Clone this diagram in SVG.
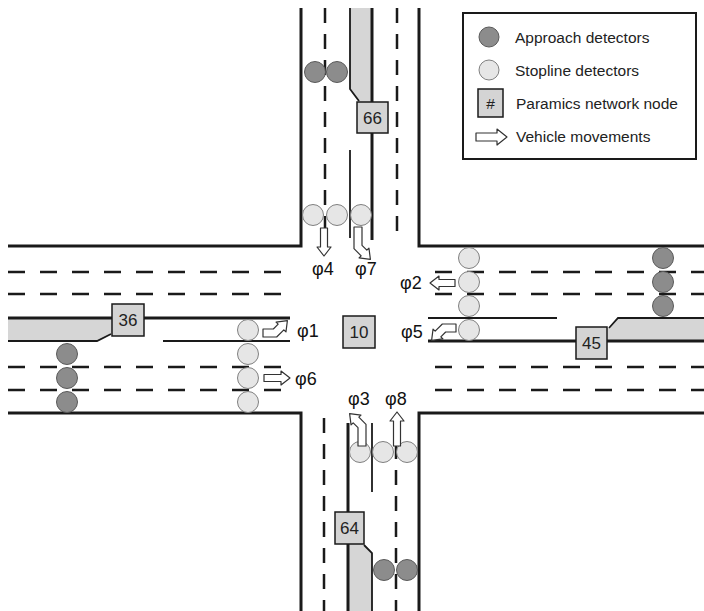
<svg xmlns="http://www.w3.org/2000/svg" width="704" height="611" viewBox="0 0 704 611">
<style>
.edge{fill:none;stroke:#1a1a1a;stroke-width:3}
.thin{fill:none;stroke:#1a1a1a;stroke-width:1.8}
.dh{fill:none;stroke:#1a1a1a;stroke-width:2.5;stroke-dasharray:17 15}
.dv{fill:none;stroke:#1a1a1a;stroke-width:2.5;stroke-dasharray:15 11}
.island{fill:#d6d6d6;stroke:none}
.app{fill:#8c8c8c;stroke:#5a5a5a;stroke-width:1}
.stop{fill:#e6e6e6;stroke:#808080;stroke-width:1}
.node rect{fill:#d4d4d4;stroke:#1a1a1a;stroke-width:1.5}
.node text{font-family:"Liberation Sans",Arial,sans-serif;font-size:17px;fill:#222;text-anchor:middle}
.mv{fill:#fff;stroke:#333;stroke-width:1.2;stroke-linejoin:round}
.ph{font-family:"Liberation Sans",Arial,sans-serif;font-size:18px;fill:#111}
.lg{font-family:"Liberation Sans",Arial,sans-serif;font-size:15.5px;fill:#222}
</style>
<defs>
<path id="turnS" d="M0,-4 L10.34,-4 L15.17,-8.83 L13.05,-10.95 L24.4,-12.4 L22.95,-1.05 L20.83,-3.17 L13.66,4 L0,4 Z"/>
<path id="turnL" d="M0,-4 L18.34,-4 L23.17,-8.83 L21.05,-10.95 L32.4,-12.4 L30.95,-1.05 L28.83,-3.17 L21.66,4 L0,4 Z"/>
</defs>
<rect width="704" height="611" fill="#fff"/>
<g id="islands">
<polygon class="island" points="350,8 372,8 372,102 359,102 350,90"/>
<polygon class="island" points="8,318 112,318 112,334 110,334 98,341 8,341"/>
<polygon class="island" points="607,328 610,328 618,318 704,318 704,341 607,341"/>
<polygon class="island" points="348,544 364,544 372,553 372,611 348,611"/>
</g>
<g id="road-edges">
<path class="edge" d="M8,246 H301 V8"/>
<path class="edge" d="M419,8 V246 H704"/>
<path class="edge" d="M8,413 H301 V611"/>
<path class="edge" d="M704,413 H419 V611"/>
</g>
<g id="lane-lines">
<path class="thin" d="M350,8 V89 L359,101"/>
<path class="edge" d="M372,8 V240"/>
<path class="thin" d="M350,150 V238"/>
<path class="edge" d="M8,318 H290"/>
<path class="thin" d="M8,341 H97 L111,334"/>
<path class="thin" d="M163,341 H290"/>
<path class="edge" d="M428,341 H704"/>
<path class="thin" d="M428,318 H557"/>
<path class="thin" d="M609,328 L618,318 H704"/>
<path class="edge" d="M348,423 V611"/>
<path class="thin" d="M372,423 V492"/>
<path class="thin" d="M364,545 L372,553 V611"/>
<path class="dh" d="M8,272 H282 M8,294 H282 M8,367 H282 M8,390 H282"/>
<path class="dh" d="M435,272 H704 M435,294 H704 M435,367 H704 M435,390 H704"/>
<path class="dv" d="M325,8 V240 M397,8 V240"/>
<path class="dv" d="M324,418 V611 M396,418 V611"/>
</g>
<g id="approach-detectors">
<circle class="app" cx="315" cy="72" r="10.5"/>
<circle class="app" cx="337" cy="72" r="10.5"/>
<circle class="app" cx="67" cy="354" r="10.5"/>
<circle class="app" cx="67" cy="378" r="10.5"/>
<circle class="app" cx="67" cy="402" r="10.5"/>
<circle class="app" cx="663" cy="258" r="10.5"/>
<circle class="app" cx="663" cy="282" r="10.5"/>
<circle class="app" cx="663" cy="306" r="10.5"/>
<circle class="app" cx="384" cy="570" r="10.5"/>
<circle class="app" cx="407" cy="570" r="10.5"/>
</g>
<g id="stopline-detectors">
<circle class="stop" cx="313" cy="215" r="10.5"/>
<circle class="stop" cx="337" cy="215" r="10.5"/>
<circle class="stop" cx="361" cy="215" r="10.5"/>
<circle class="stop" cx="248" cy="330" r="10.5"/>
<circle class="stop" cx="248" cy="354" r="10.5"/>
<circle class="stop" cx="248" cy="378" r="10.5"/>
<circle class="stop" cx="248" cy="402" r="10.5"/>
<circle class="stop" cx="469" cy="258" r="10.5"/>
<circle class="stop" cx="469" cy="282" r="10.5"/>
<circle class="stop" cx="469" cy="306" r="10.5"/>
<circle class="stop" cx="469" cy="330" r="10.5"/>
<circle class="stop" cx="360" cy="452" r="10.5"/>
<circle class="stop" cx="383" cy="452" r="10.5"/>
<circle class="stop" cx="407" cy="452" r="10.5"/>
</g>
<g id="node-66" class="node"><rect x="357" y="102" width="31" height="31"/><text x="372.5" y="124">66</text></g>
<g id="node-36" class="node"><rect x="112" y="304" width="32" height="32"/><text x="128" y="326">36</text></g>
<g id="node-10" class="node"><rect x="343" y="316" width="32" height="32"/><text x="359" y="338">10</text></g>
<g id="node-45" class="node"><rect x="576" y="327" width="31" height="32"/><text x="591.5" y="349">45</text></g>
<g id="node-64" class="node"><rect x="335" y="512" width="29" height="32"/><text x="349.5" y="534">64</text></g>
<g id="movements">
<path class="mv" d="M264,374.5 L281,374.5 L281,371 L290,378 L281,385 L281,381.5 L264,381.5 Z"/>
<path class="mv" d="M455,279.5 L439,279.5 L439,276 L430,283 L439,290 L439,286.5 L455,286.5 Z"/>
<path class="mv" d="M320.5,228 L320.5,247 L317,247 L324,256 L331,247 L327.5,247 L327.5,228 Z"/>
<path class="mv" d="M393.5,446 L393.5,421 L390,421 L397,412 L404,421 L400.5,421 L400.5,446 Z"/>
<use class="mv" href="#turnS" transform="translate(263,333)"/>
<use class="mv" href="#turnS" transform="translate(456,328) rotate(180)"/>
<use class="mv" href="#turnL" transform="translate(362,446) rotate(-90)"/>
<use class="mv" href="#turnL" transform="translate(358,227) rotate(90)"/>
</g>
<g id="phase-labels">
<text class="ph" x="312" y="275">φ4</text>
<text class="ph" x="355" y="275">φ7</text>
<text class="ph" x="400" y="289">φ2</text>
<text class="ph" x="297" y="337">φ1</text>
<text class="ph" x="401" y="338">φ5</text>
<text class="ph" x="295" y="385">φ6</text>
<text class="ph" x="348" y="405">φ3</text>
<text class="ph" x="385" y="405">φ8</text>
</g>
<g id="legend">
<rect x="463" y="13" width="233" height="146" fill="#fff" stroke="#1a1a1a" stroke-width="2"/>
<circle class="app" cx="489" cy="37" r="10"/>
<text class="lg" x="515" y="43">Approach detectors</text>
<circle class="stop" cx="489" cy="70" r="10"/>
<text class="lg" x="515" y="76">Stopline detectors</text>
<rect x="478" y="89" width="25" height="28" fill="#d4d4d4" stroke="#1a1a1a" stroke-width="1.5"/>
<text class="lg" x="490.5" y="109" text-anchor="middle">#</text>
<text class="lg" x="516" y="109">Paramics network node</text>
<path class="mv" d="M476,133 L497,133 L497,129 L507,137 L497,145 L497,141 L476,141 Z"/>
<text class="lg" x="516" y="142">Vehicle movements</text>
</g>
</svg>
